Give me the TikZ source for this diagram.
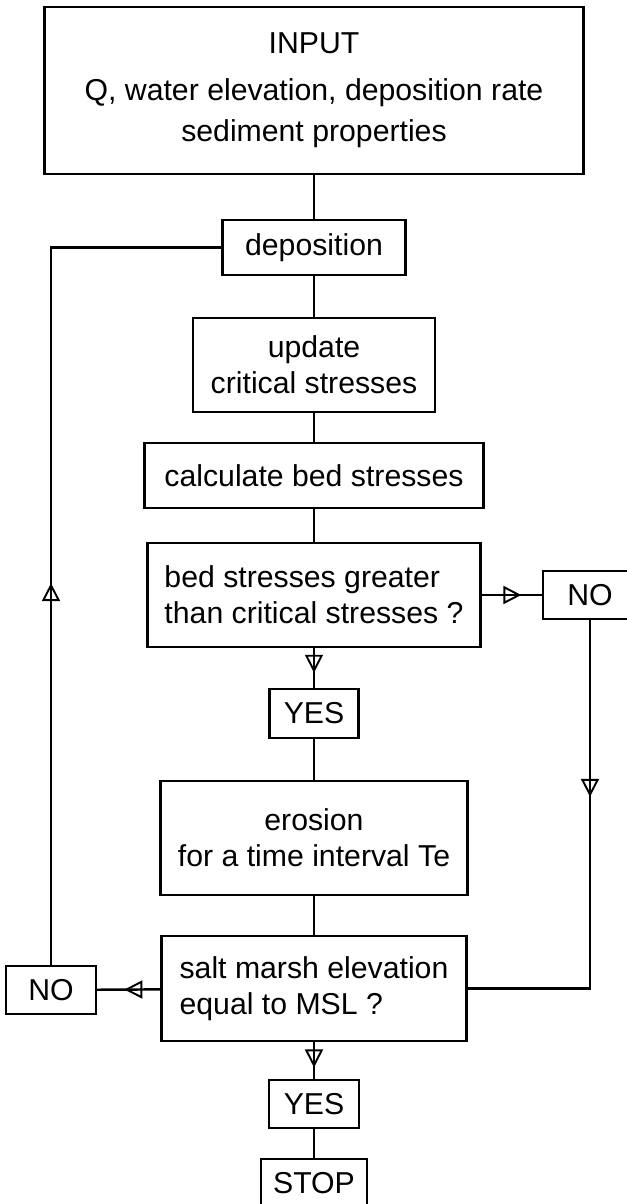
\documentclass[tikz,border=0pt]{standalone}
\usepackage{fontspec}
\setmainfont{Liberation Sans}
\usetikzlibrary{arrows.meta,decorations.markings}
\begin{document}
\begin{tikzpicture}[box/.style={draw,line width=1.4pt,inner sep=0pt,font=\fontsize{17.2}{20.5}\selectfont},
    tipat/.style={postaction={decorate},decoration={markings,mark=at position #1 with {\arrow[line width=1.1pt]{Triangle[open,length=0.36cm,width=0.36cm]}}}}]
            \useasboundingbox (0,0) rectangle (12.54,-24.08);
            \node(input)[box,align=center,minimum width=10.78cm,minimum height=3.34cm] at (6.28,-1.81){INPUT\\[6pt]Q, water elevation, deposition rate\\[3pt]sediment properties};
            \node(dep)[box,minimum width=3.66cm,minimum height=1.1cm] at (6.28,-4.95){deposition};
            \node(upd)[box,align=center,minimum width=4.84cm,minimum height=1.88cm] at (6.28,-7.3){update\\critical stresses};
            \node(calc)[box,minimum width=6.78cm,minimum height=1.3cm] at (6.28,-9.51){calculate bed stresses};
            \node(bed)[box,align=left,minimum width=6.66cm,minimum height=2.08cm] at (6.28,-11.9){bed stresses greater\\than critical stresses ?};
            \node(no1)[box,minimum width=1.88cm,minimum height=0.96cm] at (11.8,-11.9){NO};
            \node(yes1)[box,minimum width=1.78cm,minimum height=0.98cm] at (6.28,-14.27){YES};
            \node(ero)[box,align=center,minimum width=6.14cm,minimum height=2.28cm] at (6.28,-16.76){erosion\\for a time interval Te};
            \node(salt)[box,align=left,minimum width=6.1cm,minimum height=2.1cm] at (6.28,-19.77){salt marsh elevation\\equal to MSL ?};
            \node(no2)[box,minimum width=1.8cm,minimum height=0.96cm] at (1.02,-19.8){NO};
            \node(yes2)[box,minimum width=1.8cm,minimum height=0.96cm] at (6.28,-22.08){YES};
            \node(stop)[box,minimum width=2.12cm,minimum height=0.96cm] at (6.28,-23.66){STOP};
            \draw[line width=1.4pt] (input) -- (dep);
            \draw[line width=1.4pt] (dep) -- (upd);
            \draw[line width=1.4pt] (upd) -- (calc);
            \draw[line width=1.4pt] (calc) -- (bed);
            \draw[line width=1.4pt,tipat=0.66] (bed) -- (no1);
            \draw[line width=1.4pt,tipat=0.62] (bed) -- (yes1);
            \draw[line width=1.4pt] (yes1) -- (ero);
            \draw[line width=1.4pt] (ero) -- (salt);
            \draw[line width=1.4pt,tipat=0.36] (no1) |- (salt);
            \draw[line width=1.4pt,tipat=0.57] (salt) -- (no2);
            \draw[line width=1.4pt,tipat=0.43] (no2) |- (dep);
            \draw[line width=1.4pt,tipat=0.69] (salt) -- (yes2);
            \draw[line width=1.4pt] (yes2) -- (stop);
        \end{tikzpicture}
\end{document}
